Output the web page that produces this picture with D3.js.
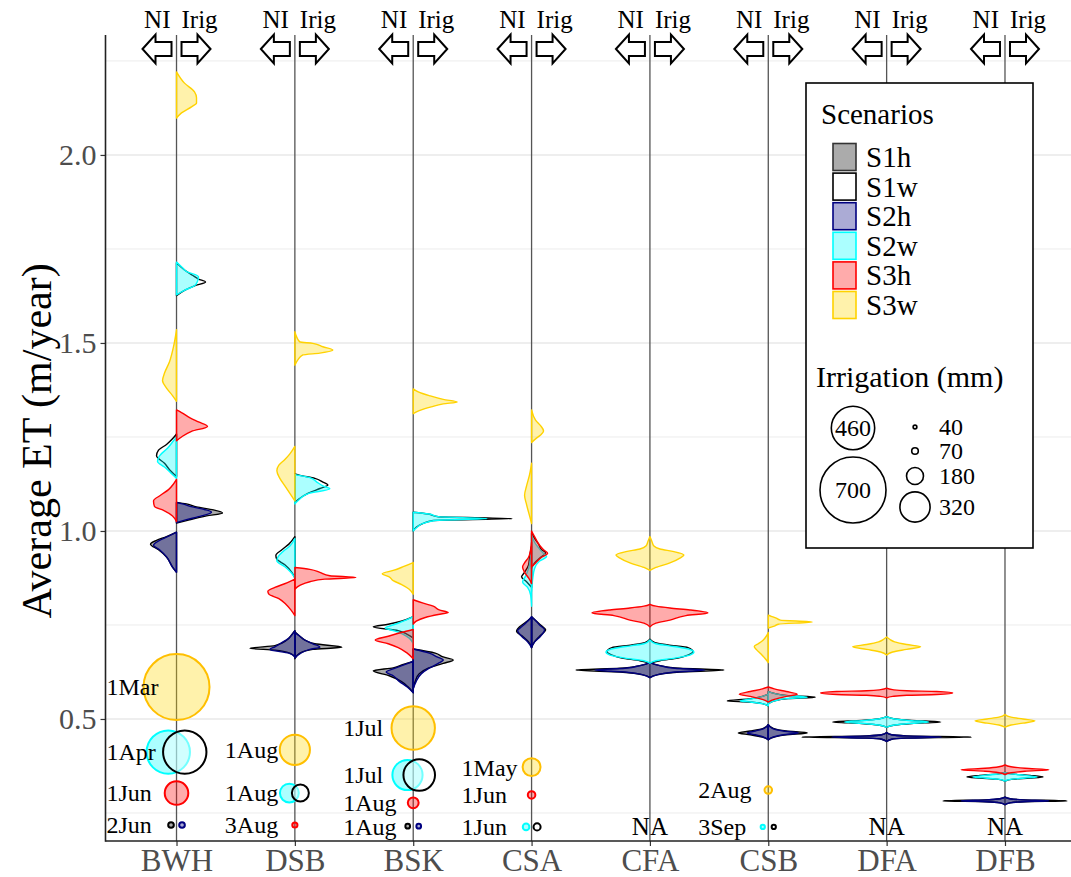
<!DOCTYPE html>
<html>
<head>
<meta charset="utf-8">
<script src="https://cdn.jsdelivr.net/npm/d3@7"></script>
<style>
  body { margin: 0; background: #fff; }
  svg { display: block; font-family: "Liberation Serif", "Times New Roman", serif; }
</style>
</head>
<body>
<svg id="chart" width="1071" height="877"></svg>
<script>
// ---------------- data ----------------
const regions = ["BWH", "DSB", "BSK", "CSA", "CFA", "CSB", "DFA", "DFB"];
const scenarios = ["S1h", "S1w", "S2h", "S2w", "S3h", "S3w"];
const yTicks = [0.5, 1.0, 1.5, 2.0];
const yMinorTicks = [0.25, 0.75, 1.25, 1.75, 2.25];
const sideLabels = ["NI", "Irig"];

// Half-violin density profiles: [scenario, side, [[ET (m/year), density], ...]]
// side "both" = identical distribution on the NI and Irig sides
const violinsBWH = [
  ["S1h", "NI",   [[0.89,0],[0.904,0.4],[0.931,1.0],[0.95,1.8],[0.965,2.6],[0.975,2.0],[0.985,1.0],[0.997,0]]],
  ["S1w", "NI",   [[1.145,0],[1.16,0.6],[1.18,1.2],[1.20,2.0],[1.215,1.8],[1.23,1.0],[1.245,0.4],[1.258,0]]],
  ["S2h", "NI",   [[0.89,0],[0.904,0.4],[0.931,1.0],[0.95,1.7],[0.962,2.3],[0.975,1.7],[0.985,0.9],[0.997,0]]],
  ["S2w", "NI",   [[1.14,0],[1.155,0.6],[1.17,1.2],[1.185,1.9],[1.20,1.7],[1.22,0.9],[1.24,0.3],[1.25,0]]],
  ["S3h", "NI",   [[1.025,0],[1.04,0.4],[1.055,1.3],[1.065,2.2],[1.08,2.3],[1.095,1.6],[1.11,0.8],[1.125,0.3],[1.137,0]]],
  ["S3w", "NI",   [[1.345,0],[1.36,0.4],[1.38,1.0],[1.40,1.4],[1.42,1.2],[1.45,0.7],[1.49,0.3],[1.535,0]]],
  ["S1h", "Irig", [[1.021,0],[1.029,1.2],[1.04,3.0],[1.048,4.6],[1.056,3.7],[1.064,2.0],[1.072,1.0],[1.076,0]]],
  ["S1w", "Irig", [[1.626,0],[1.64,0.8],[1.652,1.8],[1.662,2.9],[1.67,2.2],[1.68,1.6],[1.694,0.8],[1.713,0]]],
  ["S2h", "Irig", [[1.022,0],[1.03,1.0],[1.04,2.5],[1.05,3.5],[1.057,2.8],[1.064,1.6],[1.072,0.6],[1.076,0]]],
  ["S2w", "Irig", [[1.628,0],[1.64,0.8],[1.652,1.8],[1.664,2.1],[1.676,2.2],[1.69,1.0],[1.70,0.6],[1.715,0]]],
  ["S3h", "Irig", [[1.24,0],[1.25,0.5],[1.265,1.5],[1.278,3.1],[1.29,2.2],[1.30,1.4],[1.315,0.5],[1.322,0]]],
  ["S3w", "Irig", [[2.098,0],[2.112,0.5],[2.128,1.5],[2.138,2.0],[2.152,2.0],[2.168,1.8],[2.191,0.8],[2.221,0]]]
];
const violinsDSB = [
  ["S1h", "NI",   [[0.665,0],[0.675,0.5],[0.683,2.0],[0.688,4.5],[0.695,2.0],[0.71,0.8],[0.725,0.3],[0.735,0]]],
  ["S1w", "NI",   [[0.875,0],[0.89,0.3],[0.91,1.0],[0.925,1.8],[0.935,1.9],[0.95,1.3],[0.965,0.6],[0.985,0]]],
  ["S2h", "NI",   [[0.665,0],[0.675,0.6],[0.685,2.5],[0.692,2.0],[0.70,1.5],[0.715,0.6],[0.735,0]]],
  ["S2w", "NI",   [[0.875,0],[0.89,0.4],[0.905,1.0],[0.92,1.8],[0.93,1.7],[0.945,1.2],[0.96,0.5],[0.98,0]]],
  ["S3h", "NI",   [[0.775,0],[0.79,0.4],[0.805,0.9],[0.82,1.6],[0.832,2.6],[0.84,2.7],[0.85,2.0],[0.862,0.8],[0.872,0]]],
  ["S3w", "NI",   [[1.08,0],[1.10,0.5],[1.12,1.0],[1.14,1.5],[1.16,1.8],[1.175,1.6],[1.19,1.0],[1.205,0.5],[1.225,0]]],
  ["S1h", "Irig", [[0.66,0],[0.675,0.5],[0.685,1.8],[0.691,4.7],[0.70,2.0],[0.71,1.0],[0.72,0.5],[0.732,0]]],
  ["S1w", "Irig", [[1.075,0],[1.085,0.4],[1.10,1.3],[1.113,2.5],[1.122,3.3],[1.13,2.8],[1.14,2.0],[1.148,0.5],[1.152,0]]],
  ["S2h", "Irig", [[0.662,0],[0.675,0.6],[0.685,1.5],[0.691,2.5],[0.70,1.8],[0.71,1.0],[0.72,0.5],[0.73,0]]],
  ["S2w", "Irig", [[1.072,0],[1.085,0.5],[1.10,1.4],[1.112,3.5],[1.12,2.8],[1.13,2.2],[1.142,1.5],[1.15,0]]],
  ["S3h", "Irig", [[0.845,0],[0.855,0.5],[0.865,1.5],[0.872,3.0],[0.876,6.1],[0.881,3.5],[0.89,2.5],[0.898,1.5],[0.903,0]]],
  ["S3w", "Irig", [[1.441,0],[1.455,0.3],[1.468,0.8],[1.473,2.5],[1.481,3.8],[1.49,2.8],[1.499,1.8],[1.503,0.5],[1.515,0.2],[1.53,0]]]
];
const violinsBSK = [
  ["S1h", "NI",   [[0.57,0],[0.585,0.5],[0.60,1.2],[0.615,2.4],[0.628,4.0],[0.636,2.0],[0.645,1.0],[0.653,0]]],
  ["S1w", "NI",   [[0.715,0],[0.725,0.6],[0.735,1.5],[0.745,4.0],[0.752,2.5],[0.76,1.2],[0.772,0]]],
  ["S2h", "NI",   [[0.57,0],[0.585,0.6],[0.60,1.4],[0.615,2.0],[0.625,2.7],[0.635,1.8],[0.645,0.8],[0.653,0]]],
  ["S2w", "NI",   [[0.70,0],[0.715,0.4],[0.725,1.0],[0.735,2.0],[0.742,2.8],[0.752,1.8],[0.762,0.8],[0.772,0]]],
  ["S3h", "NI",   [[0.66,0],[0.675,0.6],[0.69,1.5],[0.70,2.5],[0.71,3.8],[0.72,2.5],[0.73,1.2],[0.738,0]]],
  ["S3w", "NI",   [[0.832,0],[0.845,0.4],[0.858,1.2],[0.868,2.0],[0.878,2.4],[0.886,3.1],[0.895,2.0],[0.905,1.0],[0.916,0]]],
  ["S1h", "Irig", [[0.58,0],[0.60,0.2],[0.62,0.6],[0.635,1.5],[0.648,3.0],[0.657,4.0],[0.665,3.0],[0.675,2.2],[0.686,0]]],
  ["S1w", "Irig", [[1.0,0],[1.01,0.3],[1.02,1.0],[1.028,2.0],[1.033,9.9],[1.038,2.5],[1.045,1.5],[1.05,0]]],
  ["S2h", "Irig", [[0.58,0],[0.60,0.3],[0.62,0.8],[0.635,1.6],[0.648,2.5],[0.657,3.0],[0.665,2.4],[0.675,1.6],[0.686,0]]],
  ["S2w", "Irig", [[1.0,0],[1.01,0.4],[1.02,1.0],[1.028,2.2],[1.033,7.4],[1.038,2.5],[1.045,1.6],[1.05,0]]],
  ["S3h", "Irig", [[0.752,0],[0.76,0.3],[0.77,1.2],[0.778,2.5],[0.783,3.5],[0.79,2.6],[0.80,2.0],[0.808,1.0],[0.817,0]]],
  ["S3w", "Irig", [[1.312,0],[1.32,0.6],[1.33,1.8],[1.338,3.0],[1.343,4.4],[1.35,3.0],[1.36,1.6],[1.37,0.5],[1.378,0]]]
];
const violinsCSA = [
  ["S1h", "NI",   [[0.69,0],[0.705,0.3],[0.72,0.9],[0.733,1.5],[0.745,1.2],[0.757,0.6],[0.77,0]]],
  ["S1w", "NI",   [[0.85,0],[0.865,0.5],[0.878,1.0],[0.89,0.7],[0.91,0.3],[0.93,0.2],[0.96,0]]],
  ["S2h", "NI",   [[0.69,0],[0.705,0.4],[0.72,1.0],[0.735,1.4],[0.745,1.0],[0.757,0.5],[0.772,0]]],
  ["S2w", "NI",   [[0.80,0],[0.83,0.1],[0.85,0.4],[0.864,0.9],[0.88,0.6],[0.90,0.3],[0.93,0.1],[0.95,0]]],
  ["S3h", "NI",   [[0.86,0],[0.875,0.3],[0.89,0.7],[0.904,0.9],[0.915,0.7],[0.93,0.3],[0.95,0.1],[0.97,0]]],
  ["S3w", "NI",   [[1.02,0],[1.04,0.2],[1.07,0.5],[1.095,0.7],[1.12,0.5],[1.15,0.2],[1.18,0]]],
  ["S1h", "Irig", [[0.69,0],[0.705,0.3],[0.72,0.8],[0.737,1.4],[0.75,0.9],[0.762,0.4],[0.772,0]]],
  ["S1w", "Irig", [[0.90,0],[0.915,0.3],[0.93,0.9],[0.942,1.4],[0.95,1.0],[0.965,0.7],[0.98,0.3],[0.995,0]]],
  ["S2h", "Irig", [[0.69,0],[0.705,0.3],[0.72,0.9],[0.737,1.3],[0.75,0.8],[0.762,0.4],[0.772,0]]],
  ["S2w", "Irig", [[0.84,0],[0.87,0.1],[0.90,0.3],[0.92,0.8],[0.932,1.5],[0.94,1.2],[0.955,0.7],[0.97,0.3],[0.99,0]]],
  ["S3h", "Irig", [[0.905,0],[0.915,0.4],[0.93,1.0],[0.941,1.6],[0.95,1.2],[0.962,0.8],[0.975,0.5],[0.99,0.2],[1.0,0]]],
  ["S3w", "Irig", [[1.235,0],[1.245,0.4],[1.255,0.9],[1.266,1.2],[1.28,0.9],[1.295,0.4],[1.322,0]]]
];
const violinsCFA = [
  ["S1h", "both", [[0.61,0],[0.618,0.8],[0.625,3.0],[0.63,7.4],[0.635,3.0],[0.642,1.0],[0.65,0]]],
  ["S1w", "both", [[0.648,0],[0.655,1.0],[0.662,2.8],[0.67,3.8],[0.68,4.3],[0.69,3.8],[0.697,1.8],[0.703,0.5],[0.712,0]]],
  ["S2h", "both", [[0.61,0],[0.618,0.8],[0.625,2.5],[0.63,5.5],[0.635,2.5],[0.642,1.0],[0.65,0]]],
  ["S2w", "both", [[0.648,0],[0.655,0.6],[0.662,2.5],[0.67,4.0],[0.678,4.4],[0.688,3.5],[0.695,1.8],[0.70,0.6],[0.71,0]]],
  ["S3h", "both", [[0.745,0],[0.755,0.6],[0.763,2.0],[0.775,3.6],[0.782,5.8],[0.79,4.0],[0.795,2.0],[0.80,0.6],[0.805,0]]],
  ["S3w", "both", [[0.895,0],[0.903,0.6],[0.915,2.0],[0.928,3.0],[0.936,3.4],[0.945,2.4],[0.952,1.0],[0.96,0.4],[0.972,0.2],[0.985,0]]]
];
const violinsCSB = [
  ["S1h", "NI",   [[0.445,0],[0.452,0.6],[0.458,1.8],[0.463,3.0],[0.468,1.8],[0.475,0.5],[0.485,0]]],
  ["S1w", "NI",   [[0.535,0],[0.541,0.6],[0.545,2.0],[0.548,4.1],[0.553,2.0],[0.56,0.6],[0.566,0]]],
  ["S2h", "NI",   [[0.445,0],[0.452,0.5],[0.458,1.3],[0.463,2.1],[0.468,1.3],[0.475,0.4],[0.485,0]]],
  ["S2w", "NI",   [[0.535,0],[0.541,0.6],[0.545,1.8],[0.548,2.8],[0.553,1.8],[0.56,0.6],[0.566,0]]],
  ["S3h", "both", [[0.545,0],[0.552,0.6],[0.56,1.8],[0.566,2.9],[0.573,1.8],[0.58,0.6],[0.585,0]]],
  ["S3w", "NI",   [[0.65,0],[0.66,0.3],[0.672,0.7],[0.685,1.2],[0.693,1.4],[0.70,1.0],[0.71,0.5],[0.72,0.2],[0.73,0]]],
  ["S1h", "Irig", [[0.445,0],[0.452,0.6],[0.458,1.8],[0.463,3.9],[0.468,1.8],[0.475,0.5],[0.485,0]]],
  ["S1w", "Irig", [[0.54,0],[0.548,0.6],[0.554,2.0],[0.558,4.7],[0.562,2.0],[0.568,0.6],[0.573,0]]],
  ["S2h", "Irig", [[0.445,0],[0.452,0.5],[0.458,1.5],[0.463,3.0],[0.468,1.5],[0.475,0.4],[0.485,0]]],
  ["S2w", "Irig", [[0.54,0],[0.548,0.6],[0.554,1.8],[0.558,3.9],[0.562,1.8],[0.568,0.6],[0.573,0]]],
  ["S3w", "Irig", [[0.742,0],[0.747,0.6],[0.752,1.0],[0.758,4.4],[0.763,1.2],[0.768,0.8],[0.773,0.3],[0.776,0]]]
];
const violinsDFA = [
  ["S1h", "both", [[0.44,0],[0.446,0.5],[0.449,2.0],[0.452,8.5],[0.455,2.0],[0.458,0.5],[0.464,0]]],
  ["S1w", "both", [[0.478,0],[0.484,0.8],[0.488,2.5],[0.492,5.4],[0.496,2.5],[0.50,0.8],[0.506,0]]],
  ["S2h", "both", [[0.44,0],[0.446,0.5],[0.449,1.8],[0.452,5.5],[0.455,1.8],[0.458,0.5],[0.464,0]]],
  ["S2w", "both", [[0.478,0],[0.484,0.8],[0.488,2.2],[0.492,4.2],[0.496,2.2],[0.50,0.8],[0.506,0]]],
  ["S3h", "both", [[0.556,0],[0.56,0.6],[0.563,2.0],[0.565,5.0],[0.569,6.6],[0.573,5.0],[0.575,2.0],[0.578,0.6],[0.582,0]]],
  ["S3w", "both", [[0.67,0],[0.678,0.6],[0.685,2.0],[0.692,3.4],[0.698,2.0],[0.705,0.8],[0.712,0.3],[0.718,0]]]
];
const violinsDFB = [
  ["S1h", "both", [[0.272,0],[0.277,0.5],[0.28,2.0],[0.282,6.2],[0.285,2.0],[0.288,0.5],[0.292,0]]],
  ["S1w", "both", [[0.335,0],[0.34,0.8],[0.343,2.5],[0.346,3.8],[0.35,2.5],[0.354,0.6],[0.358,0]]],
  ["S2h", "both", [[0.272,0],[0.277,0.5],[0.28,1.8],[0.282,4.4],[0.285,1.8],[0.288,0.5],[0.292,0]]],
  ["S2w", "both", [[0.335,0],[0.34,0.7],[0.343,2.0],[0.346,3.2],[0.35,2.0],[0.354,0.6],[0.358,0]]],
  ["S3h", "both", [[0.352,0],[0.357,0.6],[0.361,2.0],[0.365,4.4],[0.369,2.0],[0.373,0.6],[0.378,0]]],
  ["S3w", "both", [[0.478,0],[0.484,0.6],[0.489,1.8],[0.495,3.0],[0.50,1.8],[0.505,0.6],[0.512,0]]]
];

// Irrigation amounts: [region, scenario, irrigation (mm), row on the ET axis]
const irrigationCircles = [
  ["BWH", "S3w", 700, 0.585], ["BWH", "S2w", 460, 0.412], ["BWH", "S1w", 460, 0.412],
  ["BWH", "S3h", 250, 0.303], ["BWH", "S1h", 60, 0.218],  ["BWH", "S2h", 60, 0.218],
  ["DSB", "S3w", 320, 0.418], ["DSB", "S2w", 200, 0.303], ["DSB", "S1w", 180, 0.303],
  ["DSB", "S3h", 55, 0.218],
  ["BSK", "S3w", 460, 0.476], ["BSK", "S2w", 320, 0.351], ["BSK", "S1w", 335, 0.351],
  ["BSK", "S3h", 115, 0.277], ["BSK", "S1h", 50, 0.215],  ["BSK", "S2h", 50, 0.215],
  ["CSA", "S3w", 190, 0.372], ["CSA", "S3h", 80, 0.298],  ["CSA", "S2w", 70, 0.213],
  ["CSA", "S1w", 75, 0.213],
  ["CSB", "S3w", 80, 0.311],  ["CSB", "S2w", 45, 0.213],  ["CSB", "S1w", 45, 0.213]
];
// Irrigation start dates: [region, date, row on the ET axis]
const irrigationDates = [
  ["BWH", "1Mar", 0.585], ["BWH", "1Apr", 0.412], ["BWH", "1Jun", 0.303], ["BWH", "2Jun", 0.218],
  ["DSB", "1Aug", 0.418], ["DSB", "1Aug", 0.303], ["DSB", "3Aug", 0.218],
  ["BSK", "1Jul", 0.476], ["BSK", "1Jul", 0.351], ["BSK", "1Aug", 0.277], ["BSK", "1Aug", 0.215],
  ["CSA", "1May", 0.372], ["CSA", "1Jun", 0.298], ["CSA", "1Jun", 0.213],
  ["CSB", "2Aug", 0.311], ["CSB", "3Sep", 0.213]
];
const naRegions = ["CFA", "DFA", "DFB"];
const naRow = 0.214;
const sizeBreaksLarge = [460, 700];
const sizeBreaksSmall = [40, 70, 180, 320];

// ---------------- styles ----------------
const fillColor = { S1h: "#000000", S1w: "#ffffff", S2h: "#000080", S2w: "#00ffff", S3h: "#ff0000", S3w: "#ffd700" };
const strokeColor = { S1h: "#000000", S1w: "#000000", S2h: "#000080", S2w: "#00ffff", S3h: "#ff0000", S3w: "#ffd200" };
const circleStroke = { ...strokeColor, S3w: "#ffbf00" };
const FILL_ALPHA = 0.33;

const violins = [
  ["BWH", violinsBWH], ["DSB", violinsDSB], ["BSK", violinsBSK], ["CSA", violinsCSA],
  ["CFA", violinsCFA], ["CSB", violinsCSB], ["DFA", violinsDFA], ["DFB", violinsDFB]
].flatMap(([region, rows]) => rows.map(([scenario, side, pts]) => ({ region, scenario, side, pts })));

// ---------------- scales ----------------
const svg = d3.select("#chart");
const panel = { left: 105.5, right: 1076, top: 35, bottom: 841 };

const x = d3.scalePoint().domain(regions).range([panel.left, panel.right]).padding(0.6);
const y = d3.scaleLinear().domain([0.1755, 2.319]).range([panel.bottom, panel.top]);
const dens = d3.scaleLinear().domain([0, 1]).range([0, 10]);
const rad = d3.scaleLinear().domain([0, 700]).range([0, 33]);

const plot = svg.append("g");

// grid
plot.selectAll("line.minor").data(yMinorTicks).join("line")
  .attr("x1", panel.left).attr("x2", 1071)
  .attr("y1", d => y(d)).attr("y2", d => y(d))
  .attr("stroke", "#ececec").attr("stroke-width", 1);
plot.selectAll("line.major").data(yTicks).join("line")
  .attr("x1", panel.left).attr("x2", 1071)
  .attr("y1", d => y(d)).attr("y2", d => y(d))
  .attr("stroke", "#e8e8e8").attr("stroke-width", 1.4);

// center lines separating NI (left) and Irig (right)
plot.selectAll("line.mid").data(regions).join("line")
  .attr("x1", d => x(d)).attr("x2", d => x(d))
  .attr("y1", panel.top).attr("y2", panel.bottom)
  .attr("stroke", "#555").attr("stroke-width", 1.3);

// violins
const order = s => scenarios.indexOf(s);
const areaFor = v => {
  const cx = x(v.region);
  const pts = v.pts.slice().sort((a, b) => b[0] - a[0]);
  const a = d3.area().curve(d3.curveMonotoneY).y(d => y(d[0]));
  if (v.side === "NI") a.x0(cx).x1(d => cx - dens(d[1]));
  else if (v.side === "Irig") a.x0(cx).x1(d => cx + dens(d[1]));
  else a.x0(d => cx - dens(d[1])).x1(d => cx + dens(d[1]));
  return a(pts);
};
plot.append("g").selectAll("path")
  .data(violins.slice().sort((a, b) => order(a.scenario) - order(b.scenario)))
  .join("path")
  .attr("d", areaFor)
  .attr("fill", d => fillColor[d.scenario]).attr("fill-opacity", FILL_ALPHA)
  .attr("stroke", d => strokeColor[d.scenario]).attr("stroke-width", 1.4)
  .attr("stroke-linejoin", "round");

// irrigation circles (pairs on the same row are dodged side by side)
const leftOfPair = { S2w: -1, S1w: 1, S1h: -1, S2h: 1 };
const circles = irrigationCircles.map(([region, scenario, mm, row]) => {
  const paired = irrigationCircles.filter(c => c[0] === region && c[3] === row).length > 1;
  const r = rad(mm);
  const dx = paired ? leftOfPair[scenario] * Math.max(5.5, 0.38 * r) : 0;
  return { region, scenario, mm, row, r, cx: x(region) + dx };
});
const circleOrder = ["S3w", "S3h", "S2w", "S2h", "S1w", "S1h"];
plot.append("g").selectAll("circle")
  .data(circles.sort((a, b) => circleOrder.indexOf(a.scenario) - circleOrder.indexOf(b.scenario)))
  .join("circle")
  .attr("cx", d => d.cx).attr("cy", d => y(d.row)).attr("r", d => d.r)
  .attr("fill", d => fillColor[d.scenario]).attr("fill-opacity", d => d.scenario === "S1w" ? 0.45 : FILL_ALPHA)
  .attr("stroke", d => circleStroke[d.scenario]).attr("stroke-width", 2);

plot.append("g").selectAll("text")
  .data(irrigationDates).join("text")
  .attr("x", d => x(d[0]) - 70).attr("y", d => y(d[2]))
  .attr("dy", "0.35em").attr("font-size", 24).attr("fill", "#000")
  .text(d => d[1]);

plot.append("g").selectAll("text")
  .data(naRegions).join("text")
  .attr("x", d => x(d)).attr("y", y(naRow))
  .attr("dy", "0.35em").attr("text-anchor", "middle").attr("font-size", 25)
  .text("NA");

// axes
const yAxis = svg.append("g").attr("transform", `translate(${panel.left},0)`)
  .call(d3.axisLeft(y).tickValues(yTicks).tickFormat(d3.format(".1f")).tickSize(5).tickPadding(4));
yAxis.select(".domain").remove();
yAxis.selectAll(".tick line").attr("stroke", "#333").attr("stroke-width", 1.2);
yAxis.selectAll(".tick text").attr("font-size", 30).attr("fill", "#4d4d4d")
  .attr("font-family", "Liberation Serif, serif");

const xAxis = svg.append("g").attr("transform", `translate(0,${panel.bottom})`)
  .call(d3.axisBottom(x).tickSize(5).tickPadding(3));
xAxis.select(".domain").remove();
xAxis.selectAll(".tick line").attr("stroke", "#333").attr("stroke-width", 1.2);
xAxis.selectAll(".tick text").attr("font-size", 31).attr("fill", "#4d4d4d")
  .attr("font-family", "Liberation Serif, serif").attr("dy", "0.71em");

svg.append("line").attr("x1", panel.left).attr("x2", panel.left)
  .attr("y1", panel.top).attr("y2", panel.bottom + 0.7)
  .attr("stroke", "#222").attr("stroke-width", 1.6);
svg.append("line").attr("x1", panel.left).attr("x2", 1071)
  .attr("y1", panel.bottom).attr("y2", panel.bottom)
  .attr("stroke", "#222").attr("stroke-width", 1.6);

svg.append("text")
  .attr("transform", `translate(51,${(y(2.0) + y(0.5)) / 2 + 4}) rotate(-90)`)
  .attr("text-anchor", "middle").attr("font-size", 42)
  .text("Average ET (m/year)");

// header: NI / Irig arrows on each center line
const arrowPts = [[-34, 0], [-21, -14.5], [-21, -7], [-5, -7], [-5, 7], [-21, 7], [-21, 14.5]];
const header = svg.append("g").selectAll("g").data(regions).join("g")
  .attr("transform", d => `translate(${x(d)},0)`);
header.append("text").attr("x", -6).attr("y", 28).attr("text-anchor", "end")
  .attr("font-size", 25).text(sideLabels[0]);
header.append("text").attr("x", 5).attr("y", 28).attr("text-anchor", "start")
  .attr("font-size", 25).text(sideLabels[1]);
header.append("path")
  .attr("d", d3.line()(arrowPts.map(p => [p[0], 49 + p[1]])) + "Z")
  .attr("fill", "#fff").attr("stroke", "#000").attr("stroke-width", 2).attr("stroke-linejoin", "miter");
header.append("path")
  .attr("d", d3.line()(arrowPts.map(p => [-p[0], 49 + p[1]])) + "Z")
  .attr("fill", "#fff").attr("stroke", "#000").attr("stroke-width", 2).attr("stroke-linejoin", "miter");

// legend
const lg = svg.append("g");
lg.append("rect").attr("x", 806).attr("y", 83).attr("width", 227).attr("height", 465)
  .attr("fill", "#fff").attr("stroke", "#000").attr("stroke-width", 1.6);
lg.append("text").attr("x", 821).attr("y", 124).attr("font-size", 29).text("Scenarios");
const keys = lg.selectAll("g.key").data(scenarios).join("g")
  .attr("transform", (d, i) => `translate(0,${157 + i * 29.6})`);
keys.append("rect").attr("x", 833).attr("y", -13.5).attr("width", 23).attr("height", 27)
  .attr("fill", "#fff");
keys.append("rect").attr("x", 833).attr("y", -13.5).attr("width", 23).attr("height", 27)
  .attr("fill", d => fillColor[d]).attr("fill-opacity", FILL_ALPHA)
  .attr("stroke", d => d === "S1h" ? "#333" : strokeColor[d]).attr("stroke-width", 1.6);
keys.append("text").attr("x", 866).attr("y", 10).attr("font-size", 29).text(d => d);

lg.append("text").attr("x", 816).attr("y", 387).attr("font-size", 30).text("Irrigation (mm)");
const largePos = [428, 490];
lg.selectAll("circle.big").data(sizeBreaksLarge).join("circle")
  .attr("cx", 853).attr("cy", (d, i) => largePos[i]).attr("r", d => rad(d))
  .attr("fill", "#fff").attr("stroke", "#000").attr("stroke-width", 1.6);
lg.selectAll("text.big").data(sizeBreaksLarge).join("text")
  .attr("x", 853).attr("y", (d, i) => largePos[i]).attr("dy", "0.35em")
  .attr("text-anchor", "middle").attr("font-size", 24).text(d => d);
const smallPos = [427, 451, 476, 507];
lg.selectAll("circle.small").data(sizeBreaksSmall).join("circle")
  .attr("cx", 915).attr("cy", (d, i) => smallPos[i]).attr("r", d => rad(d))
  .attr("fill", "#fff").attr("stroke", "#000").attr("stroke-width", 1.6);
lg.selectAll("text.small").data(sizeBreaksSmall).join("text")
  .attr("x", 939).attr("y", (d, i) => smallPos[i]).attr("dy", "0.35em")
  .attr("font-size", 24).text(d => d);
</script>
</body>
</html>
